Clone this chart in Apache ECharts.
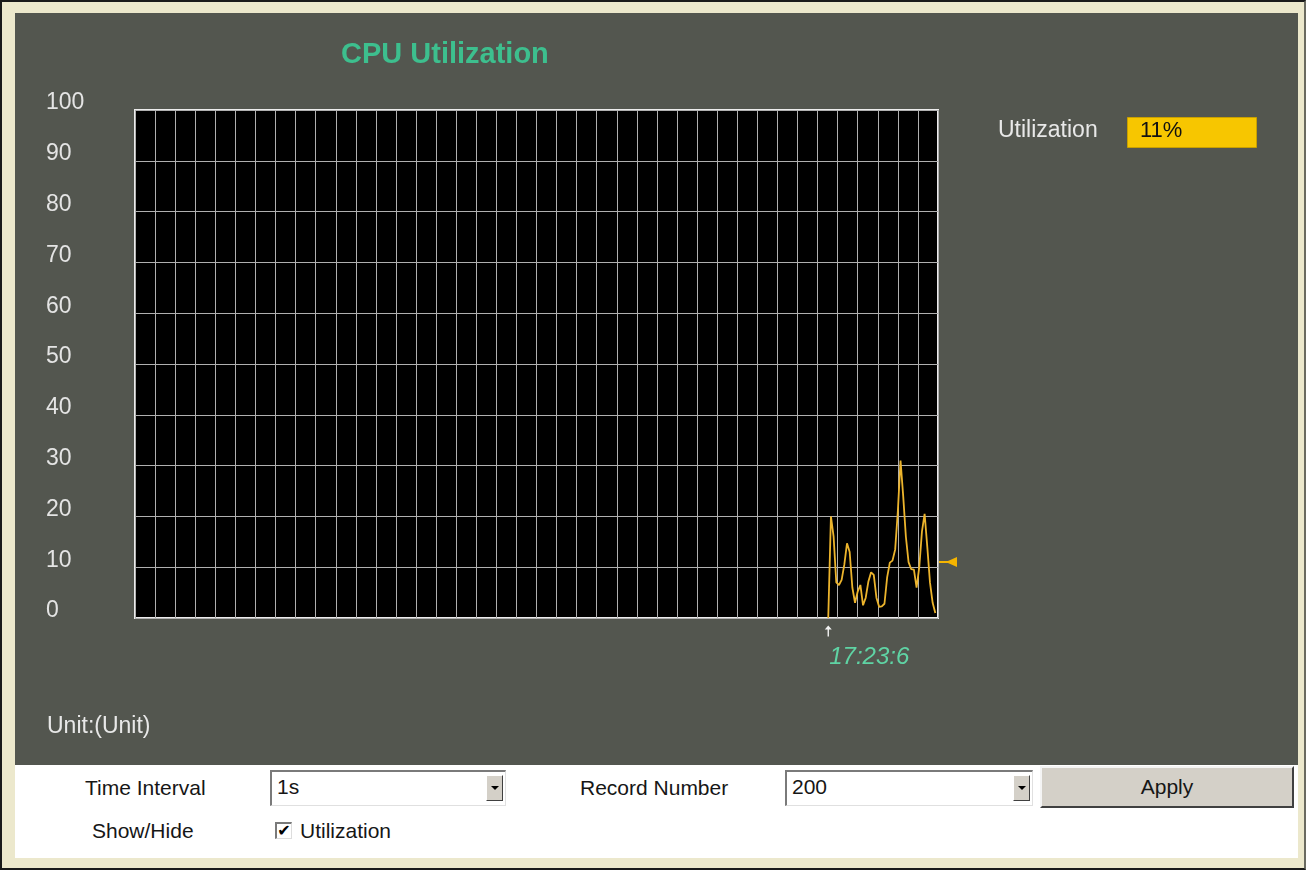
<!DOCTYPE html>
<html>
<head>
<meta charset="utf-8">
<title>CPU Utilization</title>
<script src="https://cdn.jsdelivr.net/npm/echarts@6/dist/echarts.min.js"></script>
<style>
  html, body { margin: 0; padding: 0; background: #ffffff; }
  body { width: 1306px; height: 870px; position: relative; overflow: hidden;
         font-family: "Liberation Sans", Arial, sans-serif; }
  #frame { position: absolute; left: 0; top: 0; width: 1306px; height: 870px; box-sizing: border-box;
           border-left: 2px solid #1a1a1a; border-top: 2px solid #1a1a1a; border-bottom: 2px solid #1a1a1a;
           border-right: 2px solid #6a6a60; background: #ece8cc; }
  #panel { position: absolute; left: 15px; top: 13px; width: 1283px; height: 845px; background: #ffffff; }
  #chart { position: absolute; left: 15px; top: 13px; width: 1283px; height: 752px; }
  .lbl { position: absolute; font-size: 21px; color: #161616; line-height: 24px; white-space: nowrap; }
  .sel { position: absolute; height: 36px; box-sizing: border-box; background: #fff;
         border-top: 2px solid #7a7a7a; border-left: 2px solid #7a7a7a;
         border-bottom: 1px solid #e0e0e0; border-right: 1px solid #e0e0e0; }
  .sel span { position: absolute; left: 5px; top: 3px; font-size: 21px; color: #161616; }
  .drop { position: absolute; right: 2px; top: 3px; width: 17px; height: 26px; box-sizing: border-box;
          background: #d4d0c8; border-top: 1px solid #fff; border-left: 1px solid #fff;
          border-right: 1px solid #404040; border-bottom: 1px solid #404040; }
  .drop:after { content: ""; position: absolute; left: 4px; top: 10px; border-left: 4px solid transparent;
                border-right: 4px solid transparent; border-top: 4px solid #000; }
  #apply { position: absolute; left: 1040px; top: 766px; width: 254px; height: 42px; box-sizing: border-box;
           background: #d4d0c8; border-top: 2px solid #f4f4f4; border-left: 2px solid #f4f4f4;
           border-right: 2px solid #404040; border-bottom: 2px solid #404040;
           font-size: 21px; color: #161616; text-align: center; line-height: 38px; }
  #chk { position: absolute; left: 275px; top: 822px; width: 17px; height: 17px; box-sizing: border-box;
         background: #fff; border-top: 2px solid #7a7a7a; border-left: 2px solid #7a7a7a;
         border-right: 1px solid #ddd; border-bottom: 1px solid #ddd; overflow: hidden;
         font-family: "DejaVu Sans", sans-serif; font-size: 16px; line-height: 14px; text-align: center;
         color: #000; font-weight: bold; }
</style>
</head>
<body>
<div id="frame"></div>
<div id="panel"></div>
<div id="chart"></div>

<div class="lbl" style="left:85px; top:776px;">Time Interval</div>
<div class="sel" style="left:270px; top:770px; width:236px;"><span>1s</span><div class="drop"></div></div>
<div class="lbl" style="left:580px; top:776px;">Record Number</div>
<div class="sel" style="left:785px; top:770px; width:248px;"><span>200</span><div class="drop"></div></div>
<div id="apply">Apply</div>
<div class="lbl" style="left:92px; top:819px;">Show/Hide</div>
<div id="chk">&#10004;</div>
<div class="lbl" style="left:300px; top:819px;">Utilization</div>

<script>
// Sample times (seconds on the monitor window) and CPU utilization (%) for each sample
const sampleSeconds = [259, 260, 261, 262, 263, 264, 265, 266, 267, 268, 269, 270, 271, 272, 273, 274,
  275, 276, 277, 278, 279, 280, 281, 282, 283, 284, 285, 286, 287, 288, 289, 290, 291, 292, 293, 294,
  295, 296, 297, 298, 299];
const utilization = [0, 20, 16, 7, 6.5, 7.5, 10.5, 14.7, 13, 6, 3, 5.2, 6.5, 2.5, 4, 7.2, 9, 8.5, 4,
  2.2, 2.3, 2.8, 8, 10.9, 11.3, 13.5, 21, 31, 24, 16, 11, 9.6, 9.5, 6, 10, 17, 20.5, 14, 7, 3, 1];

// Current reading shown in the legend box and by the marker on the right edge
const currentUtilization = 11;
// Clock time of the first sample
const startTimeLabel = '17:23:6';

// Axis settings
const windowSeconds = 300;
const xGridStep = 7.5;          // 40 vertical grid columns
const yTicks = [0, 10, 20, 30, 40, 50, 60, 70, 80, 90, 100];

const seriesData = sampleSeconds.map((t, i) => [t, utilization[i]]);

const chart = echarts.init(document.getElementById('chart'), null, { renderer: 'canvas' });

const labelFont = '"Liberation Sans", Arial, sans-serif';

chart.setOption({
  backgroundColor: '#53564f',
  animation: false,
  title: {
    text: 'CPU Utilization',
    left: 321,
    top: 22,
    textStyle: { color: '#3dbf8e', fontSize: 29, fontWeight: 'bold', fontFamily: labelFont }
  },
  grid: {
    left: 120, top: 97, width: 803, height: 508,
    show: true, backgroundColor: '#000000', borderColor: '#ececec', borderWidth: 2
  },
  xAxis: {
    type: 'value',
    min: 0, max: windowSeconds, interval: xGridStep,
    axisLine: { show: false }, axisTick: { show: false }, axisLabel: { show: false },
    splitLine: { show: true, lineStyle: { color: '#b0b0b0', width: 1 } }
  },
  yAxis: {
    type: 'value',
    min: yTicks[0], max: yTicks[yTicks.length - 1], interval: yTicks[1] - yTicks[0],
    axisLine: { show: false }, axisTick: { show: false },
    axisLabel: {
      color: '#e4e4e4', fontSize: 23, fontFamily: labelFont,
      align: 'left', margin: 89, verticalAlign: 'bottom', lineHeight: 14
    },
    splitLine: { show: true, lineStyle: { color: '#b0b0b0', width: 1 } }
  },
  graphic: [
    { type: 'text', left: 983, top: 106,
      style: { text: 'Utilization', fill: '#e8e8e8', font: '23px ' + labelFont } },
    { type: 'rect', left: 1112, top: 104, shape: { width: 129, height: 30 },
      style: { fill: '#f7c600', stroke: '#c9a000', lineWidth: 1 } },
    { type: 'text', left: 1125, top: 107,
      style: { text: currentUtilization + '%', fill: '#111', font: '22px ' + labelFont } },
    { type: 'text', left: 32, top: 702,
      style: { text: 'Unit:(Unit)', fill: '#e8e8e8', font: '23px ' + labelFont } }
  ],
  series: [{
    type: 'line',
    data: seriesData,
    showSymbol: false,
    smooth: false,
    lineStyle: { color: '#ecb42c', width: 1.8 },
    markPoint: {
      silent: true,
      data: [
        {
          coord: [sampleSeconds[0], 0],
          symbol: 'path://M5,0 L10,5 L6,5 L6,14 L4,14 L4,5 L0,5 Z',
          symbolSize: [7, 11],
          symbolOffset: [0, 13],
          itemStyle: { color: '#f2f2f2' },
          label: {
            show: true, position: 'bottom', distance: 9, offset: [41, 0],
            formatter: startTimeLabel, color: '#5fd3a4', fontSize: 24,
            fontStyle: 'italic', fontFamily: labelFont
          }
        },
        {
          coord: [windowSeconds, currentUtilization],
          symbol: 'path://M0,4 L9,4 L18,0 L18,10 L9,6 L0,6 Z',
          symbolSize: [18, 10],
          symbolOffset: [10, 0],
          symbolKeepAspect: false,
          itemStyle: { color: '#f5b400' },
          label: { show: false }
        }
      ]
    }
  }]
});
</script>
</body>
</html>
